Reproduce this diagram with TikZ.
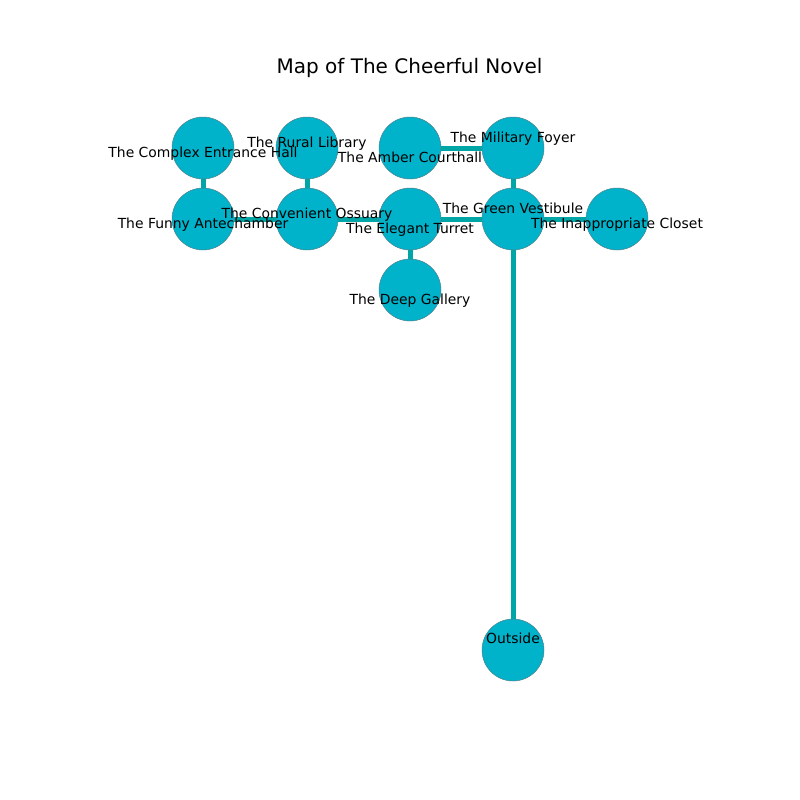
\documentclass[tikz,border=0pt]{standalone}
\usepackage{fontspec}
\setmainfont{DejaVu Sans}
\usetikzlibrary{backgrounds}
\definecolor{roomfill}{RGB}{0,178,202}
\definecolor{roomedge}{RGB}{80,130,140}
\definecolor{passage}{RGB}{0,166,166}
\tikzset{
  room/.style={circle, fill=roomfill, draw=roomedge, line width=0.5pt, minimum size=62pt, inner sep=0pt},
  passway/.style={draw=passage, line width=5pt},
  roomlabel/.style={anchor=base, inner sep=0pt, font=\fontsize{13.9}{16}\selectfont},
}
\begin{document}
\begin{tikzpicture}[x=1pt,y=-1pt]
\useasboundingbox (0,0) rectangle (800,800);
\node[anchor=base, inner sep=0pt, font=\fontsize{20}{24}\selectfont] (title) at (409.5,73.3) {Map of The Cheerful Novel};
% rooms
\node[room] (complex) at (203,148) {};
\node[room] (rural) at (307,148) {};
\node[room] (amber) at (410,148) {};
\node[room] (military) at (513,148) {};
\node[room] (funny) at (203,219) {};
\node[room] (convenient) at (307,219) {};
\node[room] (elegant) at (410,219) {};
\node[room] (green) at (513,219) {};
\node[room] (closet) at (617,219) {};
\node[room] (deep) at (410,290) {};
\node[room] (outside) at (513,650) {};
% passages
\begin{scope}[on background layer]
\draw[passway] (complex.center) -- (funny.center);
\draw[passway] (rural.center) -- (convenient.center);
\draw[passway] (funny.center) -- (convenient.center);
\draw[passway] (convenient.center) -- (elegant.center);
\draw[passway] (elegant.center) -- (green.center);
\draw[passway] (elegant.center) -- (deep.center);
\draw[passway] (amber.center) -- (military.center);
\draw[passway] (military.center) -- (green.center);
\draw[passway] (green.center) -- (closet.center);
\draw[passway] (green.center) -- (outside.center);
\end{scope}
% labels
\node[roomlabel] (lcomplex) at (203,157.7) {The Complex Entrance Hall};
\node[roomlabel] (lrural) at (307,147.7) {The Rural Library};
\node[roomlabel] (lamber) at (410,162.3) {The Amber Courthall};
\node[roomlabel] (lmilitary) at (513,142.3) {The Military Foyer};
\node[roomlabel] (lfunny) at (203,228.7) {The Funny Antechamber};
\node[roomlabel] (lconvenient) at (307,218.3) {The Convenient Ossuary};
\node[roomlabel] (lelegant) at (410,233.3) {The Elegant Turret};
\node[roomlabel] (lgreen) at (513,213.7) {The Green Vestibule};
\node[roomlabel] (lcloset) at (617,228.7) {The Inappropriate Closet};
\node[roomlabel] (ldeep) at (410,304) {The Deep Gallery};
\node[roomlabel] (loutside) at (513,643.3) {Outside};
\end{tikzpicture}
\end{document}
